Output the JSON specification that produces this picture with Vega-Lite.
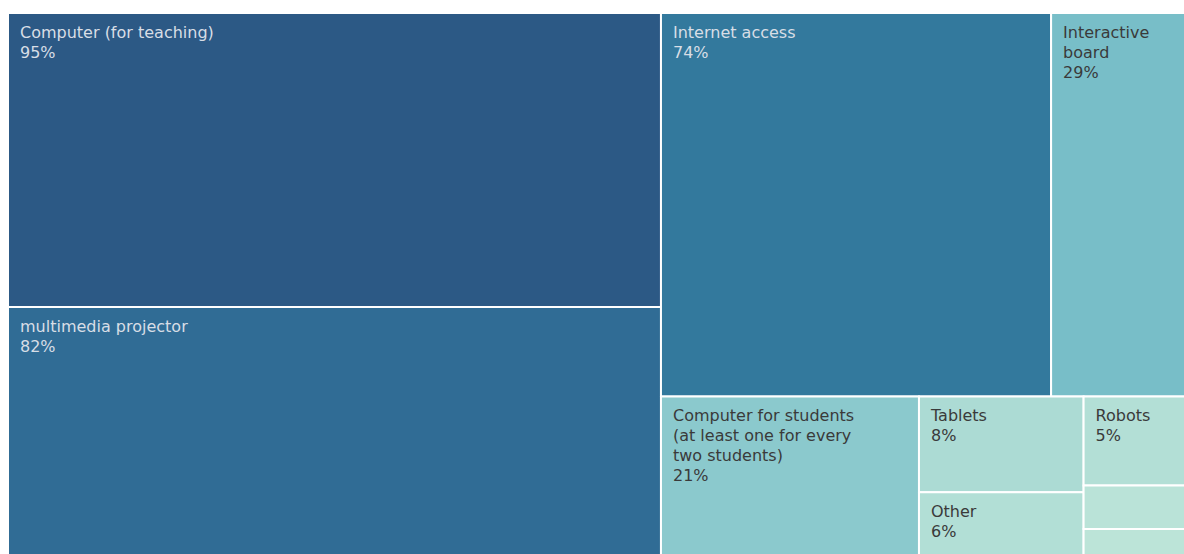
{
  "$schema": "https://vega.github.io/schema/vega-lite/v6.json",
  "width": 1176,
  "height": 541,
  "padding": {"left": 8, "top": 13, "right": 0, "bottom": 0},
  "autosize": {"type": "none"},
  "background": "white",
  "view": {"stroke": null},
  "data": {
    "values": [
      {"category": "Computer (for teaching)", "value": 95},
      {"category": "multimedia projector", "value": 82},
      {"category": "Internet access", "value": 74},
      {"category": "Interactive\nboard", "value": 29},
      {"category": "Computer for students\n(at least one for every\ntwo students)", "value": 21},
      {"category": "Tablets", "value": 7.8},
      {"category": "Other", "value": 5.6},
      {"category": "Robots", "value": 5.3},
      {"category": "Unlabelled A", "value": 2.6},
      {"category": "Unlabelled B", "value": 1.9}
    ]
  },
  "transform": [
    {"window": [{"op": "row_number", "as": "rank"}, {"op": "sum", "field": "value", "as": "cum"}], "sort": [{"field": "value", "order": "descending"}], "frame": [null, 0]},
    {"joinaggregate": [{"op": "sum", "field": "value", "as": "total"}]},
    {"calculate": "datum.rank <= 2 ? 1 : datum.rank <= 4 ? 2 : datum.rank <= 5 ? 3 : datum.rank <= 7 ? 4 : 5", "as": "block"},
    {"window": [{"op": "sum", "field": "value", "as": "blockCum"}], "groupby": ["block"], "sort": [{"field": "value", "order": "descending"}], "frame": [null, 0]},
    {"joinaggregate": [{"op": "sum", "field": "value", "as": "blockSum"}], "groupby": ["block"]},
    {"calculate": "datum.block == 1 ? datum.value : 0", "as": "inA"},
    {"calculate": "datum.block == 2 ? datum.value : 0", "as": "inB"},
    {"joinaggregate": [{"op": "sum", "field": "inA", "as": "sumA"}, {"op": "sum", "field": "inB", "as": "sumB"}]},
    {"calculate": "datum.sumA / datum.total", "as": "a"},
    {"calculate": "datum.sumB / (datum.total - datum.sumA)", "as": "h"},
    {"calculate": "datum.cum - datum.blockCum", "as": "blockStart"},
    {"calculate": "(datum.blockCum - datum.value) / datum.blockSum", "as": "f0"},
    {"calculate": "datum.blockCum / datum.blockSum", "as": "f1"},
    {"calculate": "datum.total - datum.sumA - datum.sumB", "as": "rest"},
    {"calculate": "datum.block == 1 ? 0 : datum.block == 2 ? datum.a + (1 - datum.a) * datum.f0 : datum.a + (1 - datum.a) * (datum.blockStart - datum.sumA - datum.sumB) / datum.rest", "as": "x0"},
    {"calculate": "datum.block == 1 ? datum.a : datum.block == 2 ? datum.a + (1 - datum.a) * datum.f1 : datum.a + (1 - datum.a) * (datum.blockStart + datum.blockSum - datum.sumA - datum.sumB) / datum.rest", "as": "x1"},
    {"calculate": "datum.block == 1 ? datum.f0 : datum.block == 2 ? 0 : datum.h + (1 - datum.h) * datum.f0", "as": "y0"},
    {"calculate": "datum.block == 1 ? datum.f1 : datum.block == 2 ? datum.h : datum.h + (1 - datum.h) * datum.f1", "as": "y1"}
  ],
  "encoding": {
    "x": {"field": "x0", "type": "quantitative", "scale": {"domain": [0, 0.98328], "nice": false, "zero": false}, "axis": null},
    "y": {"field": "y0", "type": "quantitative", "scale": {"domain": [0, 0.98723], "nice": false, "zero": false, "reverse": true}, "axis": null}
  },
  "layer": [
    {
      "mark": {"type": "rect", "stroke": "white", "strokeWidth": 2, "clip": true},
      "encoding": {
        "x2": {"field": "x1"},
        "y2": {"field": "y1"},
        "color": {"field": "value", "type": "quantitative", "scale": {"scheme": "tealblues"}, "legend": null}
      }
    },
    {
      "transform": [
        {"filter": "datum.value >= 5"},
        {"calculate": "split(datum.category + '\\n' + format(datum.value, '.0f') + '%', '\\n')", "as": "lines"}
      ],
      "mark": {"type": "text", "align": "left", "baseline": "alphabetic", "dx": 12, "dy": 25, "lineHeight": 20, "font": "DejaVu Sans", "fontSize": 16, "clip": true},
      "encoding": {
        "text": {"field": "lines"},
        "color": {"condition": {"test": "datum.value > 50", "value": "#d8dee6"}, "value": "#3a3a3a"}
      }
    }
  ]
}
